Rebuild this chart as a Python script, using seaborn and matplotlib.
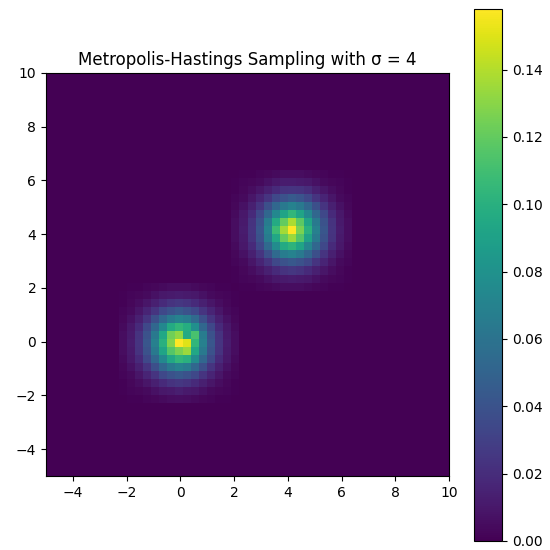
import numpy as np
import seaborn as sns
import matplotlib.pyplot as plt

# histogram grid: 50 bins over [-5, 10] on both axes
bin_lo, bin_hi, n_bins = -5.0, 10.0, 50
bin_w = (bin_hi - bin_lo) / n_bins

# peak bin index (x, y) of each mode
peak_a = (30, 30)   # mode near (4, 4)
peak_b = (16, 16)   # mode near (0, 0)

# density values (x1000), rows from top (high y) to bottom
blob_a = [
    [0, 1, 1, 2, 3, 4, 5, 5, 5, 4, 3, 2, 1, 1, 0],
    [1, 2, 3, 4, 7, 10, 12, 12, 11, 10, 7, 4, 3, 2, 1],
    [1, 3, 5, 9, 14, 19, 23, 24, 23, 20, 14, 9, 5, 3, 1],
    [2, 4, 9, 16, 24, 34, 40, 44, 41, 34, 24, 16, 9, 4, 2],
    [3, 7, 14, 24, 38, 52, 64, 70, 64, 52, 38, 24, 14, 7, 3],
    [4, 10, 19, 34, 52, 74, 92, 104, 92, 74, 52, 34, 19, 10, 4],
    [5, 11, 23, 40, 66, 96, 120, 138, 118, 92, 64, 40, 23, 11, 5],
    [5, 12, 24, 42, 70, 108, 136, 158, 126, 100, 68, 42, 24, 12, 5],
    [5, 11, 23, 40, 66, 94, 120, 134, 116, 90, 64, 40, 23, 11, 5],
    [4, 10, 19, 34, 54, 76, 96, 102, 92, 72, 52, 34, 19, 10, 4],
    [3, 7, 14, 24, 38, 54, 66, 70, 64, 52, 38, 24, 14, 7, 3],
    [2, 4, 9, 16, 24, 34, 40, 43, 40, 34, 24, 16, 9, 4, 2],
    [1, 3, 5, 9, 14, 19, 23, 25, 23, 19, 14, 9, 5, 3, 1],
    [1, 2, 3, 4, 7, 10, 11, 12, 11, 10, 7, 4, 3, 2, 1],
    [0, 1, 1, 2, 3, 4, 5, 5, 5, 4, 3, 2, 1, 1, 0],
]

blob_b = [
    [0, 1, 1, 2, 3, 4, 5, 5, 5, 4, 3, 2, 1, 1, 0],
    [1, 2, 3, 4, 7, 10, 11, 12, 11, 10, 7, 4, 3, 2, 1],
    [1, 3, 5, 9, 14, 19, 23, 25, 23, 19, 14, 9, 5, 3, 1],
    [2, 4, 9, 16, 24, 34, 40, 44, 40, 34, 24, 16, 9, 4, 2],
    [3, 7, 14, 24, 38, 52, 64, 70, 66, 54, 38, 24, 14, 7, 3],
    [4, 10, 19, 34, 52, 74, 96, 104, 98, 78, 52, 34, 19, 10, 4],
    [5, 11, 23, 40, 64, 94, 124, 132, 96, 112, 66, 40, 23, 11, 5],
    [5, 12, 24, 42, 68, 100, 128, 158, 150, 104, 68, 42, 24, 12, 5],
    [5, 11, 23, 40, 64, 92, 116, 126, 134, 94, 64, 40, 23, 11, 5],
    [4, 10, 19, 34, 52, 74, 94, 104, 100, 76, 52, 34, 19, 10, 4],
    [3, 7, 14, 24, 38, 52, 64, 70, 66, 52, 38, 24, 14, 7, 3],
    [2, 4, 9, 16, 24, 34, 40, 43, 40, 34, 24, 16, 9, 4, 2],
    [1, 3, 5, 9, 14, 19, 23, 25, 23, 19, 14, 9, 5, 3, 1],
    [1, 2, 3, 4, 7, 10, 11, 13, 11, 10, 7, 4, 3, 2, 1],
    [0, 1, 1, 2, 3, 4, 5, 6, 5, 4, 3, 2, 1, 1, 0],
]


# turn the blob tables into bin-centre points with weights
def blob_points(values, peak):
    vals = np.array(values, dtype=float) / 1000.0
    half = vals.shape[0] // 2
    xs, ys, ws = [], [], []
    for r in range(vals.shape[0]):
        for c in range(vals.shape[1]):
            kx = peak[0] - half + c
            ky = peak[1] + half - r
            xs.append(bin_lo + (kx + 0.5) * bin_w)
            ys.append(bin_lo + (ky + 0.5) * bin_w)
            ws.append(vals[r, c])
    return xs, ys, ws


xa, ya, wa = blob_points(blob_a, peak_a)
xb, yb, wb = blob_points(blob_b, peak_b)
x = np.array(xa + xb)
y = np.array(ya + yb)
w = np.array(wa + wb)

fig = plt.figure(figsize=(5.5, 5.5), dpi=100)
ax = fig.add_axes([46 / 550, 74 / 550, 403 / 550, 403 / 550])
cax = fig.add_axes([474 / 550, 9 / 550, 28 / 550, 532 / 550])

sns.histplot(x=x, y=y, weights=w, bins=n_bins, binrange=(bin_lo, bin_hi),
             stat="count", thresh=None, cmap="viridis", vmin=0,
             cbar=True, cbar_ax=cax, ax=ax)

ax.set_xlim(bin_lo, bin_hi)
ax.set_ylim(bin_lo, bin_hi)
ax.set_xlabel("")
ax.set_ylabel("")
ax.set_title("Metropolis-Hastings Sampling with σ = 4", fontsize=12)

plt.savefig("out.png", dpi=100)
